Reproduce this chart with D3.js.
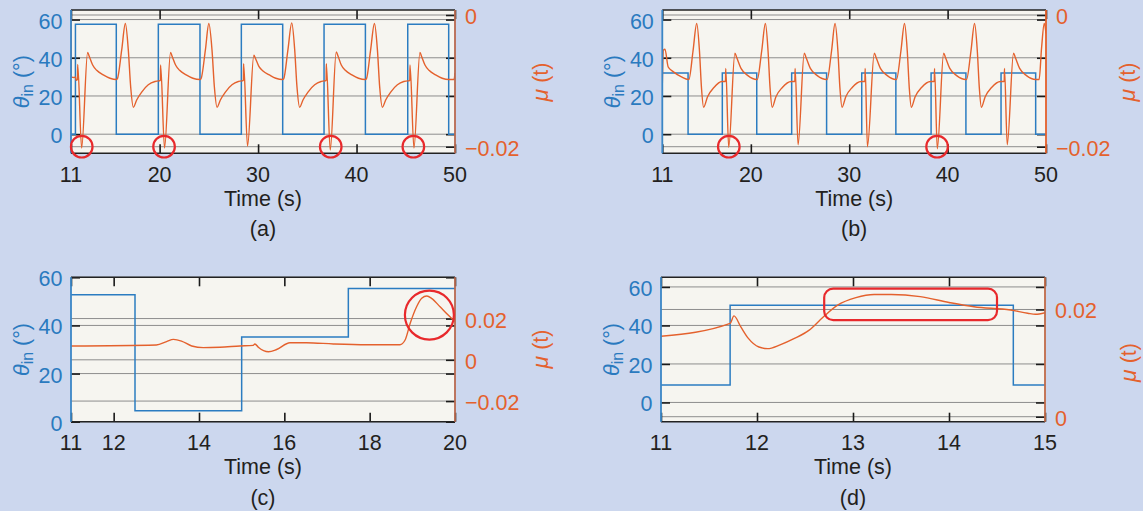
<!DOCTYPE html>
<html><head><meta charset="utf-8">
<script src="https://cdn.jsdelivr.net/npm/d3@7"></script>
<style>
html,body{margin:0;padding:0;background:#ccd7ee;}
svg{display:block;}
text{font-family:"Liberation Sans",Arial,Helvetica,sans-serif;}
</style></head><body>
<svg id="chart" width="1143" height="511"></svg>
<script>
// ================= DATA =================
// Panel (a)
const aXTicks = [11, 20, 30, 40, 50];
const aLeftTicks = [0, 20, 40, 60];
const aRightTicks = [-0.02, 0];
const aRightTickLabels = ["\u22120.02", "0"];
const aBlueT = [11, 11.45, 15.6, 19.87, 24.1, 28.3, 32.5, 36.7, 40.9, 45.2, 49.36, 50];
const aBlueV = [0, 57.5, 0, 57.5, 0, 57.5, 0, 57.5, 0, 57.5, 0, 0];
const aMuT = [11.0, 11.02, 11.3, 11.45, 11.52, 11.66, 11.68, 12.08, 12.69, 12.86, 13.2, 13.61, 14.28, 14.96, 15.6, 15.7, 16.15, 16.52, 16.82, 17.06, 17.33, 17.67, 18.18, 18.85, 19.53, 19.87,
  19.94, 20.08, 20.10, 20.5, 21.11, 21.28, 21.62, 22.03, 22.7, 23.38, 24.1, 24.2, 24.65, 25.0, 25.32, 25.56, 25.83, 26.17, 26.68, 27.35, 28.0, 28.3,
  28.37, 28.51, 28.53, 28.93, 29.57, 29.74, 30.08, 30.5, 31.15, 31.8, 32.5, 32.6, 33.03, 33.42, 33.72, 33.95, 34.22, 34.56, 35.07, 35.75, 36.4, 36.7,
  36.77, 36.91, 36.93, 37.33, 37.94, 38.11, 38.45, 38.86, 39.53, 40.2, 40.9, 41.0, 41.43, 41.82, 42.12, 42.35, 42.62, 42.96, 43.47, 44.15, 44.8, 45.2,
  45.27, 45.41, 45.43, 45.83, 46.44, 46.61, 46.95, 47.36, 48.03, 48.7, 49.36, 49.9, 50.0];
const aMuV = [0.0, -0.0094, -0.0095, -0.0094, -0.0099, -0.0098, -0.0075, -0.0202, -0.0057, -0.0063, -0.0076, -0.0084, -0.0091, -0.0096, -0.0098, -0.0097, -0.0053, -0.0013, -0.0053, -0.0109, -0.0140, -0.0129, -0.0117, -0.0106, -0.0101, -0.0100,
  -0.0100, -0.0099, -0.0076, -0.0202, -0.0057, -0.0063, -0.0076, -0.0084, -0.0091, -0.0096, -0.0098, -0.0097, -0.0053, -0.0013, -0.0053, -0.0109, -0.0140, -0.0129, -0.0117, -0.0106, -0.0101, -0.0100,
  -0.0100, -0.0099, -0.0074, -0.0199, -0.0061, -0.0066, -0.0078, -0.0085, -0.0091, -0.0096, -0.0098, -0.0097, -0.0053, -0.0012, -0.0053, -0.0109, -0.0140, -0.0129, -0.0117, -0.0106, -0.0101, -0.0100,
  -0.0100, -0.0099, -0.0074, -0.0205, -0.0056, -0.0062, -0.0076, -0.0084, -0.0091, -0.0096, -0.0098, -0.0097, -0.0053, -0.0013, -0.0053, -0.0109, -0.0140, -0.0129, -0.0117, -0.0106, -0.0101, -0.0100,
  -0.0100, -0.0099, -0.0076, -0.0202, -0.0057, -0.0063, -0.0076, -0.0084, -0.0091, -0.0096, -0.0098, -0.0098, -0.0088];
const aCircleT = [12.09, 20.45, 37.38, 45.77];
const aCircleMu = [-0.02, -0.02, -0.02, -0.02];

// Panel (b)
const bXTicks = [11, 20, 30, 40, 50];
const bLeftTicks = [0, 20, 40, 60];
const bRightTicks = [-0.02, 0];
const bRightTickLabels = ["\u22120.02", "0"];
const bBlueT = [11, 13.62, 17.1, 20.6, 24.15, 27.7, 31.27, 34.74, 38.32, 41.86, 45.43, 48.95, 50];
const bBlueV = [32, 0, 32, 0, 32, 0, 32, 0, 32, 0, 32, 0, 0];
const bMuT = [11.0, 11.12, 11.27, 11.6, 12.1, 12.95, 13.64, 13.7, 14.12, 14.5, 14.78, 14.98, 15.2, 15.6, 16.25, 17.05,
  17.42, 17.45, 17.75, 18.38, 18.55, 19.0, 19.7, 20.6, 20.65, 21.1, 21.48, 21.75, 21.95, 22.17, 22.55, 23.2, 24.1,
  24.47, 24.5, 24.8, 25.43, 25.6, 26.05, 26.75, 27.7, 27.75, 28.2, 28.56, 28.85, 29.05, 29.27, 29.65, 30.3, 31.2,
  31.59, 31.62, 31.85, 32.55, 32.72, 33.17, 33.87, 34.74, 34.8, 35.25, 35.62, 35.9, 36.1, 36.31, 36.7, 37.35, 38.27,
  38.64, 38.67, 38.95, 39.6, 39.77, 40.22, 40.92, 41.86, 41.92, 42.37, 42.74, 43.02, 43.22, 43.43, 43.82, 44.47, 45.38,
  45.75, 45.78, 46.06, 46.7, 46.87, 47.32, 48.02, 48.95, 49.3, 49.55, 49.82, 50.0];
const bMuV = [-0.0106, -0.0053, -0.0052, -0.0079, -0.0086, -0.0094, -0.0098, -0.0098, -0.0055, -0.0013, -0.0055, -0.0110, -0.0140, -0.0124, -0.0110, -0.0101,
  -0.0101, -0.0081, -0.0201, -0.0058, -0.0064, -0.0081, -0.0092, -0.0098, -0.0098, -0.0055, -0.0013, -0.0055, -0.0110, -0.0140, -0.0124, -0.0110, -0.0101,
  -0.0101, -0.0081, -0.0197, -0.0058, -0.0064, -0.0081, -0.0092, -0.0098, -0.0098, -0.0055, -0.0013, -0.0055, -0.0110, -0.0140, -0.0124, -0.0110, -0.0101,
  -0.0101, -0.0081, -0.0200, -0.0058, -0.0064, -0.0081, -0.0092, -0.0098, -0.0098, -0.0055, -0.0013, -0.0055, -0.0110, -0.0140, -0.0124, -0.0110, -0.0101,
  -0.0101, -0.0081, -0.0203, -0.0058, -0.0064, -0.0081, -0.0092, -0.0098, -0.0098, -0.0055, -0.0013, -0.0055, -0.0110, -0.0140, -0.0124, -0.0110, -0.0101,
  -0.0101, -0.0081, -0.0197, -0.0058, -0.0064, -0.0081, -0.0092, -0.0098, -0.0098, -0.0050, -0.0013, -0.0028];
const bCircleT = [17.76, 38.93];
const bCircleMu = [-0.02, -0.02];

// Panel (c)
const cXTicks = [11, 12, 14, 16, 18, 20];
const cLeftTicks = [0, 20, 40, 60];
const cRightTicks = [-0.02, 0, 0.02];
const cRightTickLabels = ["\u22120.02", "0", "0.02"];
const cBlueT = [11, 12.5, 15, 17.5, 20];
const cBlueV = [52.7, 4.6, 35.2, 55.3, 55.3];
const cMuT = [11, 13.0, 13.24, 13.4, 13.59, 13.83, 14.1, 14.49, 14.96, 15.27, 15.31, 15.39, 15.63, 15.82, 16.13, 16.52, 17.15, 17.93, 18.71, 18.83, 18.95, 19.1, 19.22, 19.34, 19.45, 19.65, 19.84, 20];
const cMuV = [0.0067, 0.0072, 0.0088, 0.0099, 0.0091, 0.0067, 0.0059, 0.0061, 0.0067, 0.0070, 0.0077, 0.0061, 0.0039, 0.0050, 0.0083, 0.0083, 0.0077, 0.0073, 0.0073, 0.0096, 0.0177, 0.0257, 0.0298, 0.0309, 0.0298, 0.0257, 0.0217, 0.0185];
const cCircleT = [19.4];
const cCircleMu = [0.0217];

// Panel (d)
const dXTicks = [11, 12, 13, 14, 15];
const dLeftTicks = [0, 20, 40, 60];
const dRightTicks = [0, 0.02];
const dRightTickLabels = ["0", "0.02"];
const dBlueT = [11, 11.72, 14.67, 15];
const dBlueV = [9, 50.5, 9, 9];
const dMuT = [11, 11.72, 11.76, 11.83, 11.91, 12.02, 12.11, 12.24, 12.39, 12.54, 12.69, 12.84, 13.03, 13.22, 13.4, 13.7, 14.0, 14.26, 14.64, 14.82, 14.9, 15];
const dMuV = [0.0150, 0.0174, 0.0188, 0.0168, 0.0146, 0.0130, 0.0127, 0.0134, 0.0146, 0.0161, 0.0186, 0.0208, 0.0222, 0.0228, 0.0228, 0.0224, 0.0213, 0.0205, 0.0199, 0.0193, 0.0191, 0.0194];
const dRectT = [12.70, 14.50];
const dRectMu = [0.0180, 0.0239];

// ================= DRAWING =================
const svg = d3.select("#chart");
const BLUE = "#2a7abf", ORANGE = "#e4612d", RED = "#e8292c", INK = "#231f20";
const FS = 21.5;

svg.append("rect").attr("width", 1143).attr("height", 511).attr("fill", "#ccd7ee");

function panel(cfg) {
  const {x0, x1, y0, y1} = cfg;
  const g = svg.append("g");
  const x = d3.scaleLinear().domain(cfg.xDom).range([x0, x1]);
  const yL = d3.scaleLinear().domain(cfg.lDom).range([y1, y0]);
  const yR = d3.scaleLinear().domain(cfg.rDom).range([y1, y0]);
  const id = "clip" + cfg.name;
  svg.append("clipPath").attr("id", id).append("rect")
    .attr("x", x0).attr("y", y0).attr("width", x1 - x0).attr("height", y1 - y0);

  g.append("rect").attr("x", x0).attr("y", y0).attr("width", x1 - x0).attr("height", y1 - y0).attr("fill", "#f6f5f0");

  // gridlines
  const grid = g.append("g").attr("stroke", "#8d8d8d").attr("stroke-width", 1);
  cfg.lTicks.forEach(v => grid.append("line").attr("x1", x0).attr("x2", x1).attr("y1", yL(v)).attr("y2", yL(v)));
  cfg.rTicks.forEach(v => grid.append("line").attr("x1", x0).attr("x2", x1).attr("y1", yR(v)).attr("y2", yR(v)));

  // inward tick marks via d3 axes
  const TL = 9;
  const axes = g.append("g");
  axes.append("g").attr("transform", `translate(0,${y1})`)
    .call(d3.axisBottom(x).tickValues(cfg.xTicks).tickSize(-TL).tickFormat(""));
  axes.append("g").attr("transform", `translate(0,${y0})`)
    .call(d3.axisTop(x).tickValues(cfg.xTicks).tickSize(-TL).tickFormat(""));
  axes.append("g").attr("transform", `translate(${x0},0)`)
    .call(d3.axisLeft(yL).tickValues(cfg.lTicks).tickSize(-TL).tickFormat(""));
  axes.append("g").attr("transform", `translate(${x1},0)`)
    .call(d3.axisRight(yL).tickValues(cfg.lTicks).tickSize(-TL).tickFormat(""));
  axes.append("g").attr("transform", `translate(${x1},0)`)
    .call(d3.axisRight(yR).tickValues(cfg.rTicks).tickSize(-TL).tickFormat(""));
  axes.selectAll(".domain").remove();
  axes.selectAll(".tick line").attr("stroke", "#1a1a1a").attr("stroke-width", 1.6);

  // data
  const data = g.append("g").attr("clip-path", `url(#${id})`);
  const blue = cfg.blueT.map((t, i) => [t, cfg.blueV[i]]);
  data.append("path").datum(blue)
    .attr("d", d3.line().x(d => x(d[0])).y(d => yL(d[1])).curve(d3.curveStepAfter))
    .attr("fill", "none").attr("stroke", "#2b7cc1").attr("stroke-width", 1.5);
  const mu = cfg.muT.map((t, i) => [t, cfg.muV[i]]);
  data.append("path").datum(mu)
    .attr("d", d3.line().x(d => x(d[0])).y(d => yR(d[1])).curve(d3.curveMonotoneX))
    .attr("fill", "none").attr("stroke", ORANGE).attr("stroke-width", 1.4).attr("stroke-linejoin", "round");

  // frame
  g.append("line").attr("x1", x0).attr("x2", x1).attr("y1", y0).attr("y2", y0).attr("stroke", "#222").attr("stroke-width", 1.6);
  g.append("line").attr("x1", x0).attr("x2", x1).attr("y1", y1).attr("y2", y1).attr("stroke", "#222").attr("stroke-width", 1.6);
  g.append("line").attr("x1", x0).attr("x2", x0).attr("y1", y0).attr("y2", y1).attr("stroke", "#3a86c6").attr("stroke-width", 1.8);
  g.append("line").attr("x1", x1).attr("x2", x1).attr("y1", y0).attr("y2", y1).attr("stroke", cfg.rAxisColor).attr("stroke-width", 1.8);

  // annotations
  if (cfg.circT) {
    cfg.circT.forEach((t, i) => g.append("circle").attr("cx", x(t)).attr("cy", yR(cfg.circMu[i]))
      .attr("r", cfg.circR).attr("fill", "none").attr("stroke", RED).attr("stroke-width", 2.2));
  }
  if (cfg.rectT) {
    const rx0 = x(cfg.rectT[0]), rx1 = x(cfg.rectT[1]);
    const ry0 = yR(cfg.rectMu[1]), ry1 = yR(cfg.rectMu[0]);
    g.append("rect").attr("x", rx0).attr("y", ry0).attr("width", rx1 - rx0).attr("height", ry1 - ry0)
      .attr("rx", 9).attr("ry", 9).attr("fill", "none").attr("stroke", RED).attr("stroke-width", 2.2);
  }

  // tick labels
  const lab = g.append("g").attr("font-size", FS);
  cfg.xTicks.forEach(v => lab.append("text").attr("x", x(v)).attr("y", y1 + 28.5).attr("text-anchor", "middle").attr("fill", INK).text(v));
  cfg.lTicks.forEach(v => lab.append("text").attr("x", x0 - 8.5).attr("y", yL(v) + 9).attr("text-anchor", "end").attr("fill", BLUE).text(v));
  cfg.rTicks.forEach((v, i) => lab.append("text").attr("x", x1 + 10).attr("y", yR(v) + 9).attr("text-anchor", "start").attr("fill", ORANGE).text(cfg.rLabels[i]));

  // titles
  const cx = (x0 + x1) / 2;
  lab.append("text").attr("x", cx).attr("y", y1 + 52.5).attr("text-anchor", "middle").attr("fill", INK).text("Time (s)");
  lab.append("text").attr("x", cx).attr("y", y1 + 83).attr("text-anchor", "middle").attr("fill", INK).text(cfg.caption);

  const lt = lab.append("text").attr("transform", `translate(${x0 - 42},${(y0 + y1) / 2}) rotate(-90)`)
    .attr("text-anchor", "middle").attr("fill", BLUE);
  lt.append("tspan").attr("font-style", "italic").text("\u03b8");
  lt.append("tspan").attr("font-size", 16).attr("dy", 4).text("in");
  lt.append("tspan").attr("dy", -4).text(" (\u00b0)");

  const rt = lab.append("text").attr("transform", `translate(${cfg.rTitleX},${cfg.rTitleY}) rotate(-90)`)
    .attr("text-anchor", "middle").attr("fill", ORANGE);
  rt.append("tspan").attr("font-style", "italic").attr("font-size", 23).text("\u03bc");
  rt.append("tspan").text(" (t)");
}

panel({name: "a", x0: 71, x1: 455, y0: 10, y1: 153.3, xDom: [11, 50], lDom: [-10, 65], rDom: [-0.021, 0.00076],
  xTicks: aXTicks, lTicks: aLeftTicks, rTicks: aRightTicks, rLabels: aRightTickLabels,
  blueT: aBlueT, blueV: aBlueV, muT: aMuT, muV: aMuV, circT: aCircleT, circMu: aCircleMu, circR: 10.8,
  caption: "(a)", rTitleX: 548, rTitleY: 82, rAxisColor: "#b8694f"});

panel({name: "b", x0: 662.3, x1: 1046, y0: 10, y1: 153.3, xDom: [11, 50], lDom: [-10, 65], rDom: [-0.021, 0.00076],
  xTicks: bXTicks, lTicks: bLeftTicks, rTicks: bRightTicks, rLabels: bRightTickLabels,
  blueT: bBlueT, blueV: bBlueV, muT: bMuT, muV: bMuV, circT: bCircleT, circMu: bCircleMu, circR: 10.8,
  caption: "(b)", rTitleX: 1134.5, rTitleY: 82, rAxisColor: "#e5602a"});

panel({name: "c", x0: 71, x1: 455, y0: 277.3, y1: 421.7, xDom: [11, 20], lDom: [0, 60], rDom: [-0.03, 0.04],
  xTicks: cXTicks, lTicks: cLeftTicks, rTicks: cRightTicks, rLabels: cRightTickLabels,
  blueT: cBlueT, blueV: cBlueV, muT: cMuT, muV: cMuV, circT: cCircleT, circMu: cCircleMu, circR: 24.5,
  caption: "(c)", rTitleX: 548, rTitleY: 349, rAxisColor: "#b8694f"});

panel({name: "d", x0: 661, x1: 1045, y0: 277.3, y1: 421.7, xDom: [11, 15], lDom: [-10, 65], rDom: [-0.00093, 0.026],
  xTicks: dXTicks, lTicks: dLeftTicks, rTicks: dRightTicks, rLabels: dRightTickLabels,
  blueT: dBlueT, blueV: dBlueV, muT: dMuT, muV: dMuV, rectT: dRectT, rectMu: dRectMu,
  caption: "(d)", rTitleX: 1136, rTitleY: 362.5, rAxisColor: "#c06a48"});
</script>
</body></html>
